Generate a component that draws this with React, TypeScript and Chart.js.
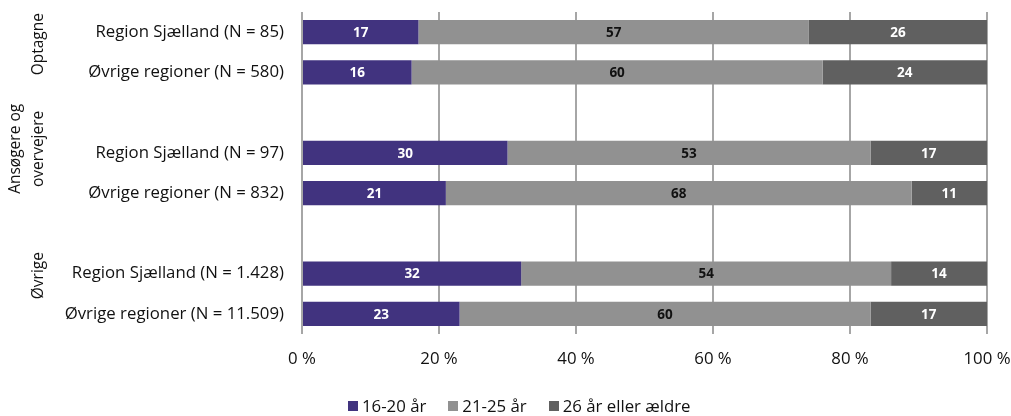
import React, { useEffect, useRef } from "react";
import { Chart, registerables } from "chart.js";

Chart.register(...registerables);

// ---------- data ----------
const groupNames = ["Optagne", "Ansøgere og\novervejere", "Øvrige"];
const rowLabels = [
  "Region Sjælland (N = 85)",
  "Øvrige regioner (N = 580)",
  "Region Sjælland (N = 97)",
  "Øvrige regioner (N = 832)",
  "Region Sjælland (N = 1.428)",
  "Øvrige regioner (N = 11.509)",
];
const age16to20 = [17, 16, 30, 21, 32, 23];
const age21to25 = [57, 60, 53, 68, 54, 60];
const age26plus = [26, 24, 17, 11, 14, 17];
const seriesNames = ["16-20 år", "21-25 år", "26 år eller ældre"];
const xTicks = [0, 20, 40, 60, 80, 100];

// ---------- style ----------
const FONT = "'Open Sans', Lato, sans-serif";
const FS = 16.8;
const GROUP_FS = 15.5;
const COLORS = ["#41337f", "#919191", "#606060"];
const LABEL_COLORS = ["#ffffff", "#111111", "#ffffff"];
// group label anchor (in category-index units)
const groupAnchor = [0.3, 2.9, 6.05];

// build slotted table with blank gap rows between groups
const slotLabels: string[] = [];
const slot1: (number | null)[] = [];
const slot2: (number | null)[] = [];
const slot3: (number | null)[] = [];
groupNames.forEach((_, g) => {
  for (let k = 0; k < 2; k++) {
    const i = g * 2 + k;
    slotLabels.push(rowLabels[i]);
    slot1.push(age16to20[i]);
    slot2.push(age21to25[i]);
    slot3.push(age26plus[i]);
  }
  if (g < groupNames.length - 1) {
    slotLabels.push("");
    slot1.push(null);
    slot2.push(null);
    slot3.push(null);
  }
});

const barLabelPlugin = {
  id: "barLabels",
  afterDatasetsDraw(chart: any) {
    const ctx = chart.ctx;
    ctx.save();
    ctx.font = `bold 13.5px ${FONT}`;
    ctx.textAlign = "center";
    ctx.textBaseline = "middle";
    chart.data.datasets.forEach((ds: any, di: number) => {
      const meta = chart.getDatasetMeta(di);
      meta.data.forEach((bar: any, i: number) => {
        const v = ds.data[i];
        if (v == null) return;
        const { x, y, base } = bar.getProps(["x", "y", "base"], true);
        ctx.fillStyle = LABEL_COLORS[di];
        ctx.fillText(String(v), (x + base) / 2, y + 1);
      });
    });
    ctx.restore();
  },
};

const groupLabelPlugin = {
  id: "groupLabels",
  afterDraw(chart: any) {
    const ctx = chart.ctx;
    const yScale = chart.scales.y;
    ctx.save();
    ctx.font = `${GROUP_FS}px ${FONT}`;
    ctx.fillStyle = "#111111";
    ctx.textAlign = "center";
    ctx.textBaseline = "middle";
    groupNames.forEach((name, g) => {
      const lines = name.split("\n");
      const cy = yScale.getPixelForValue(groupAnchor[g]);
      const lastX = 39;
      const step = 23;
      lines.forEach((line, li) => {
        const x = lastX - (lines.length - 1 - li) * step;
        ctx.save();
        ctx.translate(x, cy);
        ctx.rotate(-Math.PI / 2);
        ctx.fillText(line, 0, 0);
        ctx.restore();
      });
    });
    ctx.restore();
  },
};

export default function App() {
  const ref = useRef<HTMLCanvasElement>(null);
  useEffect(() => {
    if (!ref.current) return;
    const data = [slot1, slot2, slot3];
    const chart = new Chart(ref.current, {
      type: "bar",
      data: {
        labels: slotLabels,
        datasets: seriesNames.map((name, i) => ({
          label: name,
          data: data[i],
          backgroundColor: COLORS[i],
          borderWidth: 0,
          barPercentage: 0.6,
          categoryPercentage: 1,
        })),
      },
      options: {
        indexAxis: "y",
        responsive: false,
        animation: false,
        layout: { padding: { top: 12, right: 24, left: 0, bottom: 0 } },
        plugins: {
          legend: { display: false },
          tooltip: { enabled: false },
        },
        scales: {
          x: {
            stacked: true,
            min: 0,
            max: 100,
            afterBuildTicks: (s: any) => {
              s.ticks = xTicks.map((v) => ({ value: v }));
            },
            afterFit: (s: any) => {
              s.height = 82;
              s.paddingLeft = 0;
              s.paddingRight = 0;
            },
            grid: { color: "#a6a6a6", lineWidth: 2, drawTicks: false },
            border: { display: false },
            ticks: {
              padding: 15,
              color: "#111111",
              font: { family: FONT, size: FS },
              callback: (v: any) => `${v} %`,
            },
          },
          y: {
            stacked: true,
            afterFit: (s: any) => {
              s.width = 302;
              s.paddingTop = 0;
              s.paddingBottom = 0;
            },
            grid: { display: false, drawTicks: false },
            border: { display: false },
            ticks: {
              padding: 18,
              color: "#111111",
              font: { family: FONT, size: FS },
              autoSkip: false,
            },
          },
        },
      },
      plugins: [barLabelPlugin, groupLabelPlugin],
    });
    return () => chart.destroy();
  }, []);

  return (
    <div style={{ position: "fixed", left: 0, top: 0, width: 1011, height: 416, background: "#fff" }}>
      <canvas ref={ref} width={1011} height={416} style={{ display: "block" }} />
      <div
        style={{
          position: "absolute",
          left: 348,
          top: 396,
          display: "flex",
          alignItems: "center",
          fontFamily: FONT,
          fontSize: FS,
          color: "#111111",
          lineHeight: "20px",
        }}
      >
        {seriesNames.map((name, i) => (
          <div key={name} style={{ display: "flex", alignItems: "center", marginRight: 22 }}>
            <span style={{ width: 10, height: 10, background: COLORS[i], display: "inline-block", marginRight: 4 }} />
            <span>{name}</span>
          </div>
        ))}
      </div>
    </div>
  );
}
